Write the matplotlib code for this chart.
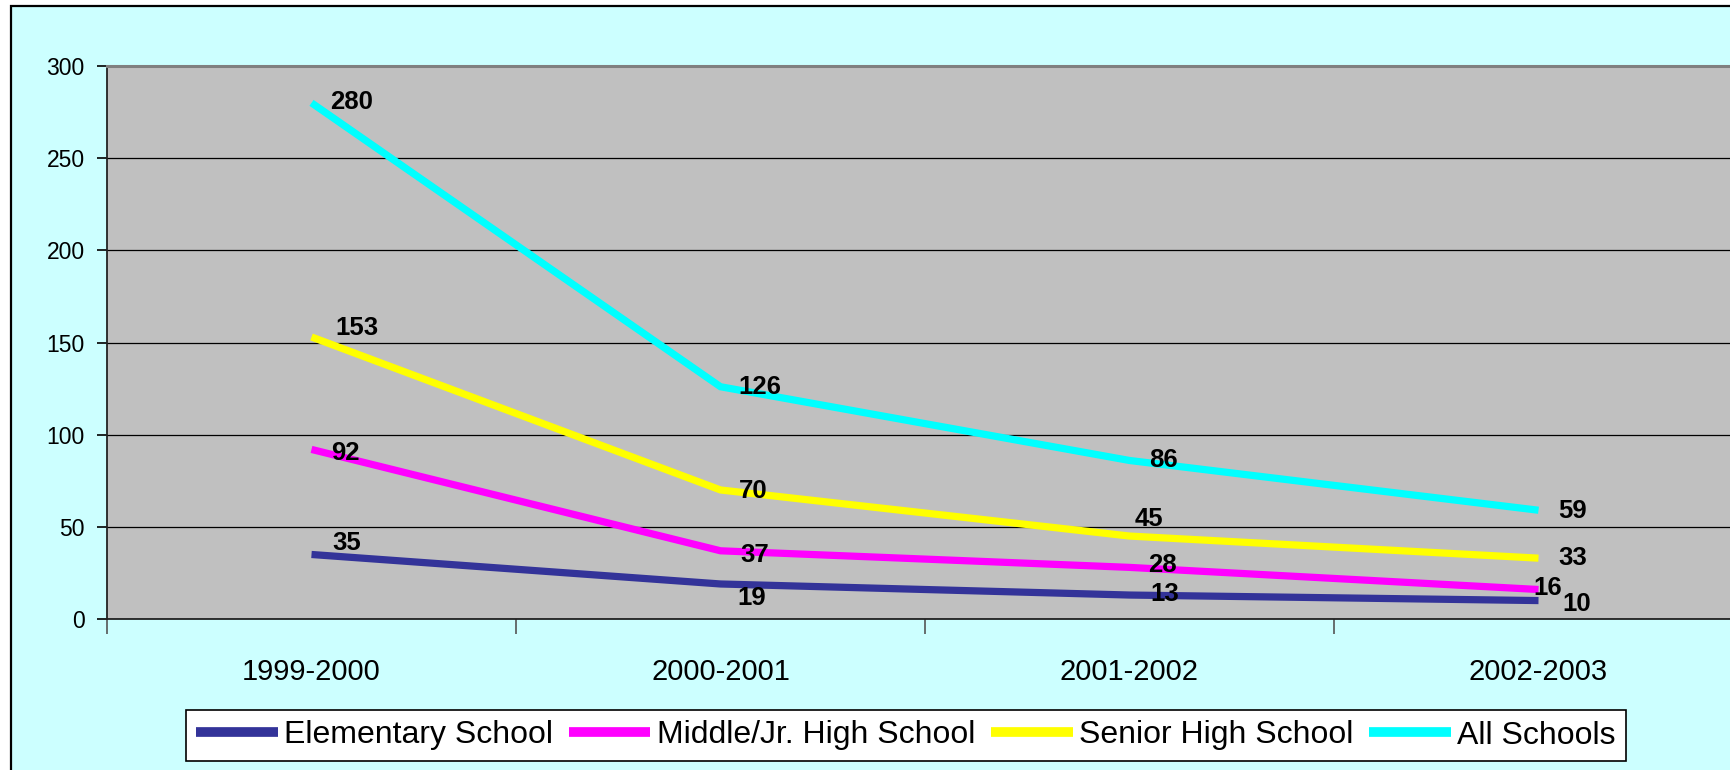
import matplotlib
matplotlib.use('Agg')
import matplotlib.pyplot as plt
from matplotlib.patches import Rectangle

# school years on the x axis
categories = ['1999-2000', '2000-2001', '2001-2002', '2002-2003']

# counts per school level
elementary = [35, 19, 13, 10]
middle = [92, 37, 28, 16]
senior = [153, 70, 45, 33]
all_schools = [280, 126, 86, 59]

series_names = ['Elementary School', 'Middle/Jr. High School',
                'Senior High School', 'All Schools']

plt.rcParams['font.family'] = ['Liberation Sans', 'DejaVu Sans']

W, H = 1731, 770
fig = plt.figure(figsize=(W / 100, H / 100), dpi=100, facecolor='white')

# cyan chart area with black frame (runs off the right/bottom edge)
fig.patches.append(Rectangle((11 / W, -0.1), 1.2, (H - 6) / H + 0.1,
                             transform=fig.transFigure, facecolor='#CCFFFF',
                             edgecolor='black', linewidth=1.6, zorder=-10))

ax = fig.add_axes([107 / W, 1 - 619 / H, 1636 / W, 553 / H])
ax.set_zorder(1)
ax.set_facecolor('#C0C0C0')

colors = ['#333399', '#FF00FF', '#FFFF00', '#00FFFF']
data = [elementary, middle, senior, all_schools]
x = list(range(len(categories)))

for vals, c, name in zip(data, colors, series_names):
    ax.plot(x, vals, color=c, lw=5.2, label=name, zorder=3,
            solid_joinstyle='miter', solid_capstyle='butt')

# label offsets in pixels (dx, dy down), one per point
label_offsets = [
    [(21, -11), (17, 14), (21, -1), (24, 3)],
    [(20, 4), (20, 4), (19, -2), (-5, -2)],
    [(24, -9), (18, 1), (5, -17), (20, 0)],
    [(19, -1), (18, 0), (20, 0), (20, 1)],
]
for vals, offs in zip(data, label_offsets):
    for xi, v, (dx, dy) in zip(x, vals, offs):
        ax.annotate(str(v), (xi, v), xytext=(dx, -dy), textcoords='offset pixels',
                    ha='left', va='center', fontsize=18.5, fontweight='bold',
                    color='black', zorder=5)

ax.set_xlim(-0.5, 3.5)
ax.set_ylim(0, 300)
ax.set_yticks(range(0, 301, 50))
ax.yaxis.grid(True, color='black', lw=0.9)
ax.set_axisbelow(True)
ax.tick_params(axis='y', direction='out', length=7, width=1.2, labelsize=16.5, pad=9)

ax.set_xticks(x)
ax.set_xticklabels(categories)
ax.set_xticks([-0.5, 0.5, 1.5, 2.5, 3.5], minor=True)
ax.tick_params(axis='x', which='major', length=0, labelsize=21, pad=28)
ax.tick_params(axis='x', which='minor', direction='out', length=11, width=1.2,
               color='#555555')

for s in ['left', 'bottom']:
    ax.spines[s].set_color('#222222')
    ax.spines[s].set_linewidth(1.3)
for s in ['top', 'right']:
    ax.spines[s].set_color('#808080')
    ax.spines[s].set_linewidth(2.2)

leg = fig.legend(loc='center', bbox_to_anchor=(906 / W, 1 - 735.5 / H), ncol=4,
                 fontsize=23, frameon=True, fancybox=False, handlelength=2.55,
                 handletextpad=0.2, columnspacing=0.5, borderpad=0.32,
                 borderaxespad=0)
leg.get_frame().set_edgecolor('black')
leg.get_frame().set_linewidth(1.2)
leg.get_frame().set_facecolor('white')
leg.get_frame().set_alpha(1)
for line in leg.get_lines():
    line.set_linewidth(7)

fig.savefig('out.png', dpi=100, facecolor=fig.get_facecolor())
